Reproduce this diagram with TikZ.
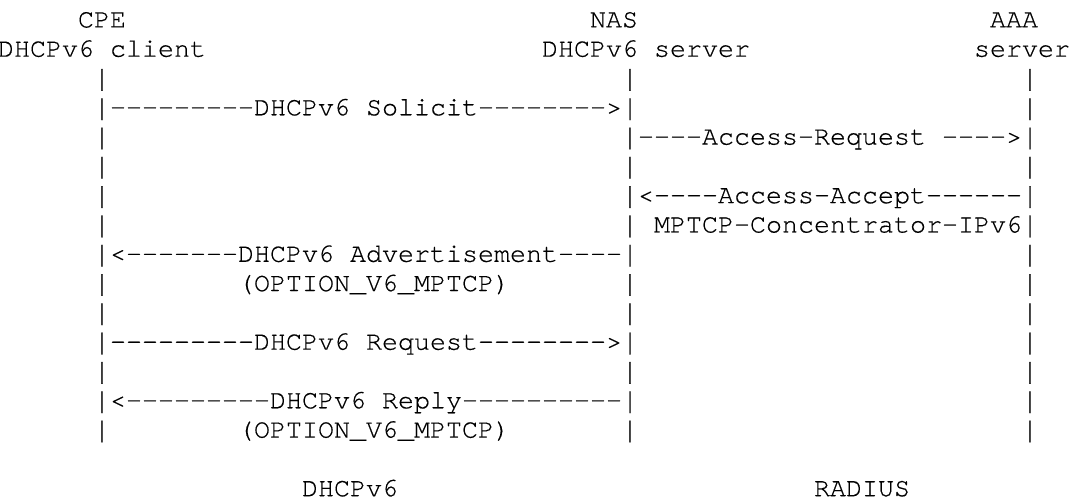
\documentclass[tikz,border=0pt]{standalone}
\usepackage{graphicx}
\usepackage{fontspec}
\setmonofont{TeX Gyre Cursor}[UprightFeatures={FakeBold=0.4}]
\newcommand\vb{\raisebox{-0.04em}{\scalebox{1}[1.12]{|}}}
\tikzset{
  txt/.style={anchor=base west, inner sep=0pt, outer sep=0pt, text=black,
    font=\ttfamily\fontsize{26.67}{29.3}\selectfont}
}
% #1 name, #2 row, #3 column, #4 text
\newcommand\seg[4]{\node[txt] (#1) at ({-2+#3*16},{500-(86+(#2-3)*29.3)}) {#4};}
\begin{document}
\begin{tikzpicture}[x=1pt,y=1pt]
\useasboundingbox (0,0) rectangle (1071,500);
% headers
\seg{cpe}{1}{5}{CPE}
\seg{nas}{1}{37}{NAS}
\seg{aaa}{1}{62}{AAA}
\seg{cli}{2}{0}{DHCPv6 client}
\seg{srv}{2}{34}{DHCPv6 server}
\seg{asrv}{2}{61}{server}
% row 3
\seg{a3}{3}{6}{\vb}\seg{b3}{3}{39}{\vb}\seg{c3}{3}{64}{\vb}
% row 4
\seg{solicit}{4}{6}{\vb---------DHCPv6 Solicit-------->\vb}\seg{c4}{4}{64}{\vb}
% row 5
\seg{a5}{5}{6}{\vb}\seg{accreq}{5}{39}{\vb----Access-Request ---->\vb}
% row 6
\seg{a6}{6}{6}{\vb}\seg{b6}{6}{39}{\vb}\seg{c6}{6}{64}{\vb}
% row 7
\seg{a7}{7}{6}{\vb}\seg{accacc}{7}{39}{\vb<----Access-Accept------\vb}
% row 8
\seg{a8}{8}{6}{\vb}\seg{conc}{8}{39}{\vb{} MPTCP-Concentrator-IPv6\vb}
% row 9
\seg{adv}{9}{6}{\vb<-------DHCPv6 Advertisement----\vb}\seg{c9}{9}{64}{\vb}
% row 10
\seg{a10}{10}{6}{\vb}\seg{opt1}{10}{15}{(OPTION\_V6\_MPTCP)}\seg{b10}{10}{39}{\vb}\seg{c10}{10}{64}{\vb}
% row 11
\seg{a11}{11}{6}{\vb}\seg{b11}{11}{39}{\vb}\seg{c11}{11}{64}{\vb}
% row 12
\seg{request}{12}{6}{\vb---------DHCPv6 Request-------->\vb}\seg{c12}{12}{64}{\vb}
% row 13
\seg{a13}{13}{6}{\vb}\seg{b13}{13}{39}{\vb}\seg{c13}{13}{64}{\vb}
% row 14
\seg{reply}{14}{6}{\vb<---------DHCPv6 Reply----------\vb}\seg{c14}{14}{64}{\vb}
% row 15
\seg{a15}{15}{6}{\vb}\seg{opt2}{15}{15}{(OPTION\_V6\_MPTCP)}\seg{b15}{15}{39}{\vb}\seg{c15}{15}{64}{\vb}
% footer
\seg{fdhcp}{17}{19}{DHCPv6}
\seg{frad}{17}{51}{RADIUS}
\end{tikzpicture}
\end{document}
